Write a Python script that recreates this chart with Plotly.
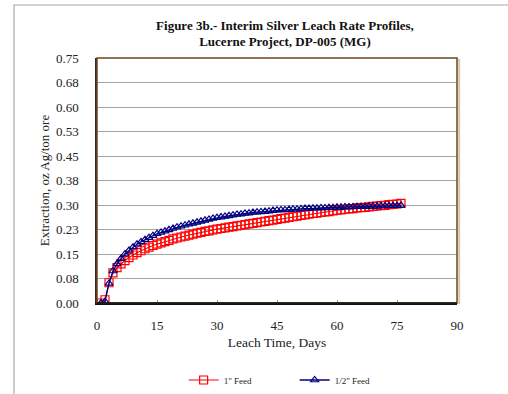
import plotly.graph_objects as go

# Leach time (days) and cumulative silver extraction (oz Ag/ton ore)
days = list(range(1, 77))

feed_1in = [
    0.000, 0.010, 0.062, 0.092, 0.108, 0.120, 0.130, 0.139, 0.147, 0.154,
    0.160, 0.166, 0.171, 0.176, 0.180, 0.184, 0.188, 0.192, 0.196, 0.199,
    0.202, 0.205, 0.208, 0.211, 0.214, 0.216, 0.219, 0.221, 0.224, 0.226,
    0.228, 0.230, 0.232, 0.234, 0.236, 0.238, 0.240, 0.242, 0.244, 0.246,
    0.248, 0.250, 0.252, 0.254, 0.256, 0.258, 0.260, 0.262, 0.264, 0.266,
    0.268, 0.270, 0.272, 0.274, 0.275, 0.277, 0.279, 0.280, 0.282, 0.284,
    0.285, 0.287, 0.288, 0.289, 0.291, 0.292, 0.293, 0.294, 0.296, 0.297,
    0.298, 0.299, 0.301, 0.302, 0.303, 0.305,
]

feed_half_in = [
    0.000, 0.005, 0.060, 0.098, 0.120, 0.136, 0.150, 0.161, 0.171, 0.180,
    0.187, 0.194, 0.200, 0.206, 0.212, 0.216, 0.220, 0.224, 0.228, 0.232,
    0.235, 0.238, 0.241, 0.244, 0.247, 0.250, 0.253, 0.256, 0.259, 0.261,
    0.263, 0.265, 0.267, 0.269, 0.271, 0.272, 0.274, 0.275, 0.277, 0.278,
    0.279, 0.280, 0.281, 0.283, 0.284, 0.285, 0.285, 0.286, 0.287, 0.287,
    0.288, 0.289, 0.289, 0.290, 0.290, 0.291, 0.291, 0.292, 0.292, 0.293,
    0.293, 0.294, 0.294, 0.294, 0.295, 0.295, 0.295, 0.296, 0.296, 0.296,
    0.297, 0.297, 0.298, 0.298, 0.298, 0.299,
]

y_tick_vals = [0.0, 0.075, 0.15, 0.225, 0.30, 0.375, 0.45, 0.525, 0.60, 0.675, 0.75]
y_tick_text = ["0.00", "0.08", "0.15", "0.23", "0.30", "0.38", "0.45", "0.53", "0.60", "0.68", "0.75"]
x_tick_vals = [0, 15, 30, 45, 60, 75, 90]

SERIF = "Liberation Serif, Times New Roman, serif"

fig = go.Figure()
fig.add_trace(go.Scatter(
    x=days, y=feed_1in, mode="lines+markers", name='1" Feed',
    line=dict(color="#ff0000", width=1.2),
    marker=dict(symbol="square-open", size=8, color="#ff0000", line=dict(width=1.2)),
))
fig.add_trace(go.Scatter(
    x=days, y=feed_half_in, mode="lines+markers", name='1/2" Feed',
    line=dict(color="#000080", width=1.3),
    marker=dict(symbol="triangle-up-open", size=7, color="#000080", line=dict(width=1.2)),
))

fig.update_layout(
    width=508, height=394,
    margin=dict(l=97, r=51, t=58, b=91, autoexpand=False),
    paper_bgcolor="white", plot_bgcolor="white",
    font=dict(family=SERIF, color="#222222"),
    title=dict(
        text="<b>Figure 3b.- Interim Silver Leach Rate Profiles,<br>Lucerne Project, DP-005 (MG)</b>",
        x=0.561, xanchor="center", y=0.925, yanchor="middle",
        font=dict(family=SERIF, size=13, color="#111111"),
    ),
    showlegend=True,
    legend=dict(
        orientation="h", xref="container", yref="container",
        x=0.58, xanchor="center", y=1 - 380 / 394, yanchor="middle",
        font=dict(family=SERIF, size=9, color="#222222"),
        entrywidth=66, bgcolor="rgba(0,0,0,0)",
    ),
    xaxis=dict(
        range=[0, 90], tickvals=x_tick_vals, ticks="inside", ticklen=3,
        tickcolor="#999999", showgrid=False, zeroline=False, automargin=False,
        showline=True, linecolor="#111111", linewidth=1.5,
        tickfont=dict(size=13, family=SERIF), ticklabelstandoff=10,
        title=dict(text="Leach Time, Days", font=dict(size=13.5, family=SERIF), standoff=5),
    ),
    yaxis=dict(
        range=[0, 0.75], tickvals=y_tick_vals, ticktext=y_tick_text,
        showgrid=True, gridcolor="#a6a6a6", gridwidth=1, zeroline=False, automargin=False,
        showline=True, linecolor="#3a2a1a", linewidth=1.5, ticks="",
        tickfont=dict(size=13, family=SERIF), ticklabelstandoff=14,
        title=dict(text="Extraction, oz Ag/ton ore", font=dict(size=13, family=SERIF), standoff=3),
    ),
    shapes=[
        # outer chart frame
        dict(type="rect", xref="paper", yref="paper",
             x0=(14 - 97) / 360, x1=1.3, y0=-0.6, y1=(303 - 5) / 245,
             line=dict(color="#a8a8a8", width=1.2), fillcolor="rgba(0,0,0,0)", layer="below"),
        # shadow along the right edge of the plot area
        dict(type="line", xref="paper", yref="paper",
             x0=1.006, x1=1.006, y0=-0.004, y1=0.996,
             line=dict(color="#d9c7ac", width=2)),
        # plot area border
        dict(type="rect", xref="paper", yref="paper",
             x0=0, x1=1, y0=0, y1=1,
             line=dict(color="#6b4523", width=1.5), fillcolor="rgba(0,0,0,0)"),
        dict(type="line", xref="paper", yref="paper",
             x0=0, x1=1, y0=0, y1=0, line=dict(color="#111111", width=1.5)),
    ],
)

fig.write_html("out.html")
